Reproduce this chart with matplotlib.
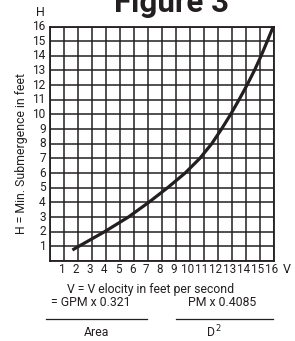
import matplotlib
matplotlib.use("Agg")
import matplotlib.pyplot as plt
import matplotlib.transforms as mtransforms

FONT = ["Roboto", "DejaVu Sans"]
INK = "#231f20"

# curve: velocity (ft/s) vs min. submergence (ft)
velocity = [1.6, 2.05, 3.9, 5.6, 7.05, 8.4, 9.65, 10.7, 11.55, 12.25, 12.9,
            13.5, 14.07, 14.6, 15.08, 15.52, 15.95]
submergence = [0.75, 1, 2, 3, 4, 5, 6, 7, 8, 9, 10, 11, 12, 13, 14, 15, 16]

x_ticks = list(range(1, 17))
y_ticks = list(range(1, 17))

plt.rcParams["font.family"] = FONT

W, H = 295, 341
fig = plt.figure(figsize=(W / 100, H / 100), dpi=100)
ax = fig.add_axes([50 / W, 1 - 261 / H, 224 / W, 234.5 / H])

ax.set_xlim(0, 16)
ax.set_ylim(0, 16)
ax.set_xticks(range(0, 17))
ax.set_yticks(range(0, 17))
ax.grid(True, color=INK, linewidth=1.1)
ax.tick_params(length=0, labelbottom=False, labelleft=False)
for s in ax.spines.values():
    s.set_color(INK)
    s.set_linewidth(1.3)

ax.plot(velocity, submergence, color=INK, linewidth=2.3,
        solid_capstyle="butt", zorder=5, clip_on=False)

# tick labels drawn as text so they can sit like the original
shift = mtransforms.ScaledTranslation(-2 / 100, 0, fig.dpi_scale_trans)
for v in x_ticks:
    ax.text(v, -0.12, str(v), transform=ax.transData + shift,
            ha="center", va="top", fontsize=8.4, color=INK)
for h in y_ticks:
    ax.text(-0.3, h, str(h), ha="right", va="center",
            fontsize=8.6, color=INK)

ax.text(16.95, -0.12, "V", ha="center", va="top", fontsize=9, color=INK)
fig.text(40 / W, 1 - 12 / H, "H", ha="center", va="center",
         fontsize=9, color=INK)
fig.text(22 / W, 1 - 153 / H, "H = Min. Submergence in feet",
         rotation=90, ha="center", va="center", fontsize=8.8, color=INK)

fig.text(172 / W, 1 - 12.5 / H, "Figure 3", ha="center", va="baseline",
         fontsize=22.5, fontweight="bold", color=INK)

fig.text(151 / W, 1 - 289 / H, "V = V elocity in feet per second",
         ha="center", va="center", fontsize=8.8, color=INK)
fig.text(91 / W, 1 - 303 / H, "= GPM x 0.321", ha="center", va="center",
         fontsize=8.8, color=INK)
fig.text(96 / W, 1 - 332 / H, "Area", ha="center", va="center",
         fontsize=8.8, color=INK)
fig.text(222 / W, 1 - 303 / H, "PM x 0.4085", ha="center", va="center",
         fontsize=8.8, color=INK)
fig.text(214 / W, 1 - 332 / H, r"D$^{\,2}$", ha="center", va="center",
         fontsize=8.8, color=INK)
fig.add_artist(plt.Line2D([46 / W, 147 / W], [1 - 319 / H, 1 - 319 / H],
                          color=INK, linewidth=0.9))
fig.add_artist(plt.Line2D([176 / W, 273 / W], [1 - 319 / H, 1 - 319 / H],
                          color=INK, linewidth=0.9))

fig.savefig("out.png", dpi=100, facecolor="white")
